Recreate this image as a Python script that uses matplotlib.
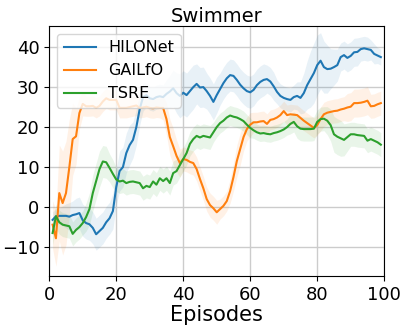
import numpy as np
import matplotlib
matplotlib.use("Agg")
import matplotlib.pyplot as plt

episodes = list(range(1, 100))

hilonet = [-3.2, -2.3, -2.2, -2.2, -2.2, -2.4, -2.0, -1.8, -1.5, -3.3,
           -4.0, -4.3, -5.2, -6.8, -6.0, -5.2, -3.8, -2.8, -1.0, 5.0,
           9.0, 10.0, 13.5, 15.5, 16.8, 20.0, 24.5, 27.5, 28.0, 27.2,
           27.0, 27.5, 27.7, 27.5, 28.3, 28.9, 29.7, 28.5, 27.8, 28.6,
           28.0, 29.0, 30.0, 30.8, 29.9, 30.0, 29.0, 27.8, 26.3, 28.0,
           29.5, 31.0, 32.2, 33.0, 32.8, 31.8, 30.6, 29.7, 29.0, 28.7,
           29.3, 30.5, 31.3, 31.8, 32.0, 31.4, 30.2, 28.8, 27.8, 27.3,
           27.0, 26.8, 27.5, 27.8, 27.3, 28.5, 30.5, 32.0, 33.5, 35.5,
           36.6, 35.0, 34.5, 34.6, 35.0, 35.5, 37.5, 38.0, 37.3, 37.8,
           38.7, 38.8, 39.5, 39.7, 39.5, 39.3, 38.3, 37.9, 37.5]
hilonet_std = [2.0, 2.0, 2.0, 2.5, 3.0, 3.5, 3.5, 4.0, 4.0, 4.0,
               4.0, 4.0, 4.0, 4.0, 4.0, 4.0, 4.0, 4.0, 4.5, 4.5,
               5.0, 5.0, 5.0, 5.0, 4.5, 4.5, 4.0, 3.5, 3.0, 3.0,
               3.0, 3.0, 3.0, 3.0, 3.5, 4.0, 4.5, 5.0, 5.5, 5.5,
               5.5, 5.5, 5.5, 5.0, 5.0, 5.0, 4.5, 4.5, 4.5, 4.5,
               4.0, 4.0, 4.0, 4.0, 4.0, 4.0, 4.0, 4.0, 4.0, 4.0,
               4.0, 4.0, 4.0, 4.0, 3.5, 3.5, 3.5, 3.0, 3.0, 3.0,
               3.0, 3.0, 3.0, 3.5, 4.0, 5.0, 6.0, 7.0, 7.5, 7.5,
               7.0, 6.5, 6.0, 5.0, 4.5, 4.0, 3.5, 3.5, 3.5, 3.5,
               3.5, 3.5, 3.0, 3.0, 3.0, 2.5, 2.5, 2.0, 2.0]

gailfo = [-4.4, -7.8, 3.5, 1.0, 3.5, 10.0, 17.0, 17.7, 23.5, 25.8,
          25.2, 25.2, 25.3, 24.8, 25.3, 26.4, 27.2, 26.8, 26.8, 26.8,
          24.8, 24.8, 24.8, 25.0, 25.2, 25.4, 24.8, 24.9, 25.1, 24.8,
          24.7, 24.9, 24.8, 24.8, 22.0, 17.5, 15.2, 12.8, 11.0, 12.0,
          11.8, 11.3, 11.0, 9.5, 7.0, 4.7, 2.0, 0.5, -0.3, -1.3,
          -0.5, 0.3, 1.5, 4.0, 7.5, 11.5, 14.5, 17.5, 19.5, 20.6,
          21.2, 21.2, 21.4, 21.5, 20.8, 21.8, 22.0, 22.4, 23.0, 24.0,
          23.0, 23.2, 23.1, 23.0, 22.3, 21.6, 21.0, 20.4, 19.8, 20.5,
          22.0, 23.2, 23.6, 23.8, 24.0, 24.1, 24.4, 24.6, 24.9, 25.1,
          26.0, 26.0, 26.1, 26.3, 26.6, 25.2, 25.3, 25.7, 26.0]
gailfo_std = [6.0, 7.0, 12.0, 13.0, 13.0, 12.0, 9.0, 7.0, 4.0, 3.0,
              2.5, 2.5, 2.5, 2.5, 2.5, 2.5, 2.5, 2.5, 2.5, 2.5,
              2.5, 2.5, 2.5, 2.5, 2.5, 2.5, 2.5, 2.5, 2.5, 2.5,
              2.5, 2.5, 2.5, 3.0, 4.0, 4.5, 4.5, 4.0, 3.5, 3.0,
              3.0, 3.0, 3.0, 3.0, 3.0, 3.0, 3.0, 3.0, 3.0, 3.0,
              2.5, 2.5, 2.5, 3.0, 3.5, 4.0, 4.0, 3.5, 3.0, 3.0,
              2.5, 2.5, 2.5, 2.5, 2.5, 2.5, 2.5, 2.5, 2.5, 2.5,
              2.5, 2.5, 2.5, 2.5, 2.5, 2.5, 2.5, 2.5, 2.5, 2.5,
              3.0, 3.0, 3.0, 3.0, 3.0, 3.0, 3.0, 3.0, 3.5, 3.5,
              3.5, 3.5, 3.5, 3.5, 3.5, 3.0, 3.0, 3.0, 3.0]

tsre = [-6.5, -2.3, -3.8, -4.4, -4.6, -4.8, -6.7, -5.7, -5.0, -4.0,
        -2.5, -0.5, 3.5, 6.5, 9.5, 11.4, 11.2, 9.8, 8.3, 6.9,
        6.4, 6.6, 6.0, 6.3, 6.4, 6.2, 6.0, 4.7, 5.3, 5.0,
        6.4, 5.6, 7.2, 6.5, 7.2, 6.0, 8.5, 9.0, 10.5, 12.0,
        13.5, 15.8, 17.0, 17.8, 17.4, 17.8, 17.6, 17.4, 18.7, 20.0,
        21.0, 21.6, 22.4, 22.9, 22.6, 22.4, 22.0, 21.5, 20.6, 19.8,
        19.2, 18.7, 18.4, 18.5, 18.3, 18.2, 18.5, 18.7, 19.0, 19.4,
        20.0, 20.8, 21.3, 20.2, 19.6, 19.5, 19.5, 19.5, 19.6, 21.3,
        22.0, 22.1, 21.6, 20.5, 18.2, 17.6, 17.2, 16.8, 17.5, 18.2,
        18.2, 18.0, 17.9, 17.8, 16.6, 17.0, 16.6, 16.2, 15.6]
tsre_std = [3.0, 3.0, 3.0, 3.0, 3.0, 3.0, 3.0, 3.0, 3.0, 3.0,
            3.5, 4.0, 4.5, 4.5, 4.5, 4.0, 4.0, 3.5, 3.5, 3.0,
            3.0, 3.0, 3.0, 3.0, 3.0, 3.0, 3.0, 3.0, 3.0, 3.0,
            3.0, 3.0, 3.0, 3.0, 3.0, 3.0, 3.0, 3.0, 3.0, 3.0,
            3.0, 3.0, 3.0, 3.0, 3.0, 3.0, 3.0, 3.0, 2.5, 2.5,
            2.5, 2.5, 2.5, 2.5, 2.5, 2.5, 2.5, 2.5, 2.5, 2.5,
            2.0, 2.0, 2.0, 2.0, 2.0, 2.0, 2.0, 2.0, 2.0, 2.0,
            2.0, 2.5, 2.5, 3.0, 3.0, 3.0, 3.0, 3.0, 3.0, 3.0,
            3.0, 3.0, 3.5, 4.0, 4.5, 4.5, 4.5, 4.0, 3.5, 3.0,
            3.0, 3.0, 3.0, 3.0, 3.0, 3.0, 3.0, 3.0, 3.0]

series = [("HILONet", hilonet, hilonet_std, "#1f77b4"),
          ("GAILfO", gailfo, gailfo_std, "#ff7f0e"),
          ("TSRE", tsre, tsre_std, "#2ca02c")]

fig = plt.figure(figsize=(4.07, 3.28), dpi=100)
ax = fig.add_axes([0.121, 0.159, 0.823, 0.762])
x = np.array(episodes)
for name, m, s, c in series:
    m = np.array(m); s = np.array(s)
    ax.fill_between(x, m - s, m + s, color=c, alpha=0.1, linewidth=0)
    ax.plot(x, m, color=c, linewidth=1.5, label=name)

ax.set_xlim(0, 100)
ax.set_ylim(-17.2, 45.3)
ax.set_xticks([0, 20, 40, 60, 80, 100])
ax.set_yticks([-10, 0, 10, 20, 30, 40])
ax.tick_params(labelsize=13)
ax.grid(True, color="#cccccc", linewidth=1.0)
ax.set_axisbelow(True)
ax.set_title("Swimmer", fontsize=14, pad=3)
ax.set_xlabel("Episodes", fontsize=15, labelpad=1)
ax.legend(loc="upper left", fontsize=11.5, handlelength=2.0)
fig.savefig("out.png", dpi=100)
